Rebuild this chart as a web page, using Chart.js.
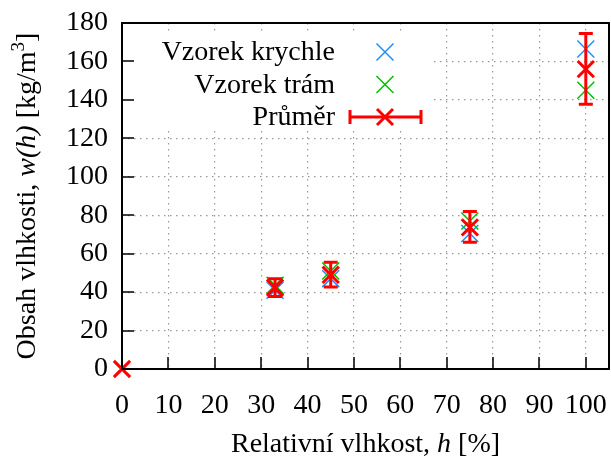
<!DOCTYPE html>
<html>
<head>
<meta charset="utf-8">
<script src="https://cdn.jsdelivr.net/npm/chart.js@4.4.0/dist/chart.umd.min.js"></script>
<style>
  html, body { margin: 0; padding: 0; background: #fff; }
  #wrap { position: relative; width: 611px; height: 461px; }
</style>
</head>
<body>
<div id="wrap"><canvas id="chart"></canvas></div>
<script>
// Relative humidity of the samples [%]
const humidity = [33, 45, 75, 100];
// Moisture content of cube samples and beam samples [kg/m3]
const cubeValues = [41, 47, 70.5, 166.5];
const beamValues = [43.5, 51, 77, 145];
// Mean with its range (error bar)
const meanX = [0, 33, 45, 75, 100];
const meanValues = [0, 42.3, 49, 73.7, 156];
const meanLow = [null, 37.7, 42.6, 66, 137.7];
const meanHigh = [null, 47, 55.5, 82, 174.6];
// Axis ticks
const xTicks = [0, 10, 20, 30, 40, 50, 60, 70, 80, 90, 100];
const yTicks = [0, 20, 40, 60, 80, 100, 120, 140, 160, 180];
const legendLabels = ['Vzorek krychle', 'Vzorek trám', 'Průměr'];

const FONT = '"Liberation Serif", "Times New Roman", serif';
const FONT_SIZE = 28;
const BLUE = '#1e90ff';
const GREEN = '#00c000';
const RED = '#ff0000';

function toPoints(xs, ys) {
    return xs.map((x, i) => ({ x: x, y: ys[i] }));
}

// Draw a run of text pieces (some italic / superscript) centred at 0,0
function drawRich(ctx, parts) {
    const fonts = parts.map(p => (p.italic ? 'italic ' : '') + (p.sup ? 19 : FONT_SIZE) + 'px ' + FONT);
    let total = 0;
    const widths = parts.map((p, i) => { ctx.font = fonts[i]; const w = ctx.measureText(p.text).width; total += w; return w; });
    let x = -total / 2;
    ctx.textAlign = 'left';
    ctx.textBaseline = 'alphabetic';
    parts.forEach((p, i) => {
        ctx.font = fonts[i];
        ctx.fillText(p.text, x, p.sup ? -2 : 9);
        x += widths[i];
    });
}

function drawCross(ctx, x, y, half, width, color) {
    ctx.save();
    ctx.strokeStyle = color;
    ctx.lineWidth = width;
    ctx.beginPath();
    ctx.moveTo(x - half, y - half); ctx.lineTo(x + half, y + half);
    ctx.moveTo(x + half, y - half); ctx.lineTo(x - half, y + half);
    ctx.stroke();
    ctx.restore();
}

function noPadding(s) {
    s.paddingLeft = 0; s.paddingRight = 0; s.paddingTop = 0; s.paddingBottom = 0;
}

const plotDecor = {
    id: 'plotDecor',
    beforeDatasetsDraw(chart) {
        // legend box is opaque and hides the grid
        const { ctx, chartArea: a } = chart;
        ctx.save();
        ctx.fillStyle = '#fff';
        ctx.fillRect(a.left + 1, a.top + 12, 311, 96);
        ctx.restore();
    },
    afterDatasetsDraw(chart) {
        const { ctx } = chart;
        const xs = chart.scales.x, ys = chart.scales.y;
        ctx.save();
        ctx.strokeStyle = RED;
        ctx.lineWidth = 3;
        meanX.forEach((h, i) => {
            if (meanLow[i] == null) return;
            const px = xs.getPixelForValue(h);
            const lo = ys.getPixelForValue(meanLow[i]);
            const hi = ys.getPixelForValue(meanHigh[i]);
            ctx.beginPath();
            ctx.moveTo(px, lo); ctx.lineTo(px, hi);
            ctx.moveTo(px - 7, lo); ctx.lineTo(px + 7, lo);
            ctx.moveTo(px - 7, hi); ctx.lineTo(px + 7, hi);
            ctx.stroke();
        });
        ctx.restore();
    },
    afterDraw(chart) {
        const { ctx, chartArea: a } = chart;
        const xs = chart.scales.x, ys = chart.scales.y;
        ctx.save();
        // frame
        ctx.strokeStyle = '#000';
        ctx.lineWidth = 2;
        ctx.strokeRect(a.left, a.top, a.right - a.left, a.bottom - a.top);
        // inward tick marks
        ctx.lineWidth = 1.5;
        ctx.beginPath();
        xTicks.forEach(v => {
            const px = Math.round(xs.getPixelForValue(v));
            ctx.moveTo(px, a.bottom); ctx.lineTo(px, a.bottom - 12);
        });
        yTicks.forEach(v => {
            const py = Math.round(ys.getPixelForValue(v));
            ctx.moveTo(a.left, py); ctx.lineTo(a.left + 12, py);
        });
        ctx.stroke();

        // legend
        const rows = [52, 84.5, 117];
        ctx.fillStyle = '#000';
        ctx.font = FONT_SIZE + 'px ' + FONT;
        ctx.textAlign = 'right';
        ctx.textBaseline = 'middle';
        legendLabels.forEach((t, i) => ctx.fillText(t, 335, rows[i] + 1));
        drawCross(ctx, 385, rows[0], 8.5, 1.5, BLUE);
        drawCross(ctx, 385, rows[1], 8.5, 1.5, GREEN);
        ctx.strokeStyle = RED;
        ctx.lineWidth = 3;
        ctx.beginPath();
        ctx.moveTo(350, rows[2]); ctx.lineTo(421, rows[2]);
        ctx.moveTo(350, rows[2] - 7); ctx.lineTo(350, rows[2] + 7);
        ctx.moveTo(421, rows[2] - 7); ctx.lineTo(421, rows[2] + 7);
        ctx.stroke();
        drawCross(ctx, 385, rows[2], 8, 3, RED);

        // axis titles
        ctx.fillStyle = '#000';
        ctx.save();
        ctx.translate((a.left + a.right) / 2, 443);
        drawRich(ctx, [{ text: 'Relativní vlhkost, ' }, { text: 'h', italic: true }, { text: ' [%]' }]);
        ctx.restore();
        ctx.save();
        ctx.translate(26, 196);
        ctx.rotate(-Math.PI / 2);
        drawRich(ctx, [{ text: 'Obsah vlhkosti, ' }, { text: 'w(h)', italic: true }, { text: ' [kg/m' }, { text: '3', sup: true }, { text: ']' }]);
        ctx.restore();
        ctx.restore();
    }
};

const tickFont = { family: FONT, size: FONT_SIZE };

new Chart(document.getElementById('chart'), {
    type: 'scatter',
    data: {
        datasets: [
            {
                label: legendLabels[2],
                data: toPoints(meanX, meanValues),
                pointStyle: 'crossRot',
                pointRadius: 11.5,
                pointHoverRadius: 11.5,
                borderColor: RED,
                borderWidth: 3,
                pointBorderWidth: 3,
                order: 0,
                clip: false
            },
            {
                label: legendLabels[1],
                data: toPoints(humidity, beamValues),
                pointStyle: 'crossRot',
                pointRadius: 12,
                borderColor: GREEN,
                pointBorderWidth: 1.5,
                order: 1
            },
            {
                label: legendLabels[0],
                data: toPoints(humidity, cubeValues),
                pointStyle: 'crossRot',
                pointRadius: 12,
                borderColor: BLUE,
                pointBorderWidth: 1.5,
                order: 2
            }
        ]
    },
    options: {
        responsive: true,
        maintainAspectRatio: false,
        animation: false,
        layout: { autoPadding: false, padding: { top: 23, right: 2, left: 0, bottom: 0 } },
        plugins: {
            legend: { display: false },
            tooltip: { enabled: false }
        },
        scales: {
            x: {
                type: 'linear',
                min: 0,
                max: 105,
                afterBuildTicks: s => { s.ticks = xTicks.map(v => ({ value: v })); },
                afterFit: s => { s.height = 92; noPadding(s); },
                grid: { color: '#999', lineWidth: 1.2, drawTicks: false },
                border: { display: false, dash: [1.5, 4.5] },
                ticks: { font: tickFont, color: '#000', padding: 20, maxRotation: 0, autoSkip: false }
            },
            y: {
                type: 'linear',
                min: 0,
                max: 180,
                afterBuildTicks: s => { s.ticks = yTicks.map(v => ({ value: v })); },
                afterFit: s => { s.width = 122; noPadding(s); },
                grid: { color: '#999', lineWidth: 1.2, drawTicks: false },
                border: { display: false, dash: [1.5, 4.5] },
                ticks: { font: tickFont, color: '#000', padding: 14, autoSkip: false }
            }
        }
    },
    plugins: [plotDecor]
});
</script>
</body>
</html>
